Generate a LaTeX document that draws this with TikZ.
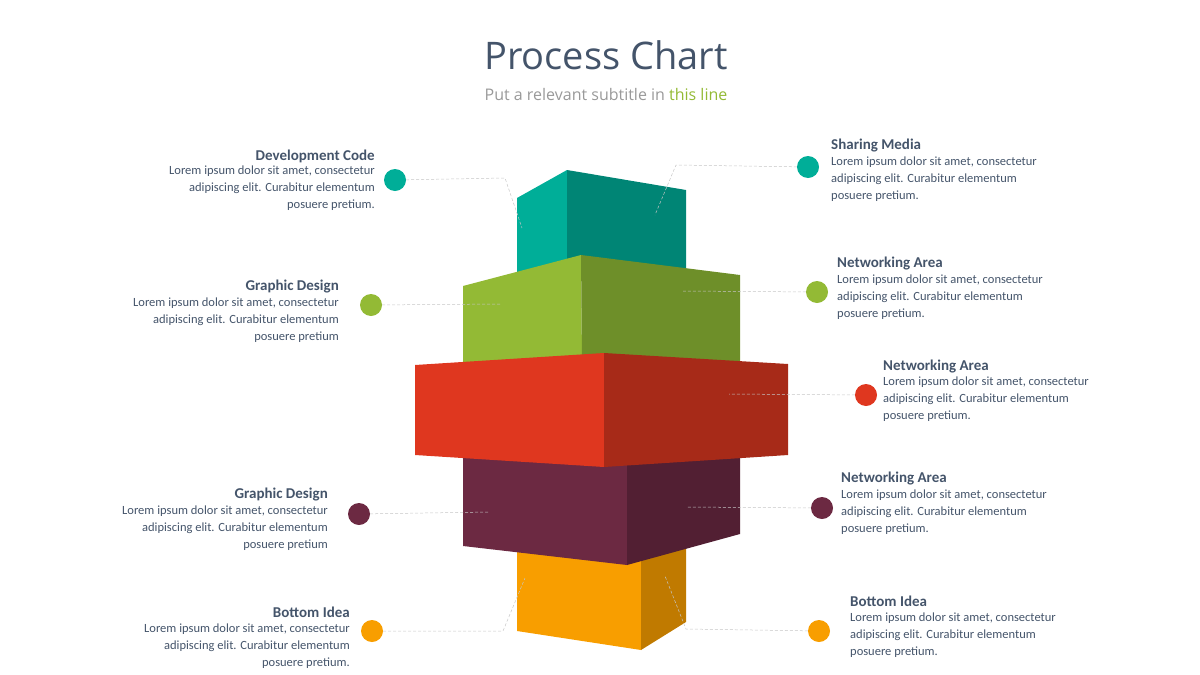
\documentclass[tikz,border=0pt]{standalone}
\usepackage{fontspec}
\setmainfont{Carlito}
\newfontfamily\headfont{Open Sans}
\usetikzlibrary{positioning}
\definecolor{txt}{HTML}{44546A}
\definecolor{tealL}{HTML}{00AE98}
\definecolor{tealD}{HTML}{008575}
\definecolor{greenL}{HTML}{93BA35}
\definecolor{greenD}{HTML}{6E8F29}
\definecolor{redL}{HTML}{DF371F}
\definecolor{redD}{HTML}{A72A18}
\definecolor{plumL}{HTML}{6C2942}
\definecolor{plumD}{HTML}{521F33}
\definecolor{orangeL}{HTML}{F89E00}
\definecolor{orangeD}{HTML}{C07A00}
\tikzset{
  dot/.style={circle, fill=#1, minimum size=22pt, inner sep=0pt},
  lead/.style={draw=gray!45, densely dashed, line width=0.5pt},
  head/.style={font=\fontsize{15}{17}\selectfont\bfseries, text=txt, inner sep=0pt},
  body/.style={font=\fontsize{12.5}{16.8}\selectfont, text=txt, inner sep=0pt},
}
\begin{document}
\begin{tikzpicture}[x=1pt,y=-1pt]
		\useasboundingbox (0,0) rectangle (1200,675);
		\node (title) at (606,55) {\headfont\fontsize{38}{40}\selectfont\color{txt}Process Chart};
		\node (sub) at (606,94) {\headfont\fontsize{16}{18}\selectfont\color{gray!80}Put a relevant subtitle in \color{greenL}this line};

		% blocks
		\fill[tealL] (517,198) -- (567,170) -- (567,272) -- (517,272) -- cycle;
		\fill[tealD] (567,170) -- (686,190) -- (686,272) -- (567,272) -- cycle;
		\fill[orangeL] (517,545) -- (641,545) -- (641,650) -- (517,631) -- cycle;
		\fill[orangeD] (641,545) -- (686,545) -- (686,622) -- (641,650) -- cycle;
		\fill[greenL] (463,286) -- (581,255) -- (582,362) -- (463,362) -- cycle;
		\fill[greenD] (581,255) -- (740,275) -- (740,362) -- (582,362) -- cycle;
		\fill[plumL] (463,455) -- (627,455) -- (627,565) -- (463,546) -- cycle;
		\fill[plumD] (627,455) -- (740,455) -- (740,534) -- (627,565) -- cycle;
		\fill[redL] (415,365) -- (604,353) -- (604,467) -- (415,455) -- cycle;
		\fill[redD] (604,353) -- (788,364) -- (788,455) -- (604,467) -- cycle;

		% dots
		\node (d1)[dot=tealL] at (395,180) {};
		\node (d2)[dot=greenL] at (371,305) {};
		\node (d3)[dot=plumL] at (359,514) {};
		\node (d4)[dot=orangeL] at (372,631) {};
		\node (d5)[dot=tealL] at (808,167) {};
		\node (d6)[dot=greenL] at (817,292) {};
		\node (d7)[dot=redL] at (866,395) {};
		\node (d8)[dot=plumL] at (822,508) {};
		\node (d9)[dot=orangeL] at (819,631) {};

		% leaders
		\coordinate (c1) at (505,178); \coordinate (e1) at (522,228);
		\coordinate (c5) at (676,165); \coordinate (e5) at (655,215);
		\coordinate (c4) at (503,631); \coordinate (e4) at (525,578);
		\coordinate (c9) at (686,629); \coordinate (e9) at (665,576);
		\coordinate (e2) at (501,304);
		\coordinate (e3) at (490,512);
		\coordinate (e6) at (683,291);
		\coordinate (e7) at (729,394);
		\coordinate (e8) at (686,507);
		\draw[lead] (d1) -- (c1) -- (e1);
		\draw[lead] (d5) -- (c5) -- (e5);
		\draw[lead] (d4) -- (c4) -- (e4);
		\draw[lead] (d9) -- (c9) -- (e9);
		\draw[lead] (d2) -- (e2);
		\draw[lead] (d3) -- (e3);
		\draw[lead] (d6) -- (e6);
		\draw[lead] (d7) -- (e7);
		\draw[lead] (d8) -- (e8);

		% left texts
		\node (h1)[head, anchor=east] at (375,156) {Development Code};
		\node (b1)[body, anchor=north east, align=right] at (375,166) {Lorem ipsum dolor sit amet, consectetur\\adipiscing elit. Curabitur elementum\\posuere pretium.};
		\node (h2)[head, anchor=east] at (339,287) {Graphic Design};
		\node (b2)[body, anchor=north east, align=right] at (339,298) {Lorem ipsum dolor sit amet, consectetur\\adipiscing elit. Curabitur elementum\\posuere pretium};
		\node (h3)[head, anchor=east] at (328,495) {Graphic Design};
		\node (b3)[body, anchor=north east, align=right] at (328,506) {Lorem ipsum dolor sit amet, consectetur\\adipiscing elit. Curabitur elementum\\posuere pretium};
		\node (h4)[head, anchor=east] at (350,612) {Bottom Idea};
		\node (b4)[body, anchor=north east, align=right] at (350,624) {Lorem ipsum dolor sit amet, consectetur\\adipiscing elit. Curabitur elementum\\posuere pretium.};

		% right texts
		\node (h5)[head, anchor=west] at (831,146) {Sharing Media};
		\node (b5)[body, anchor=north west, align=left] at (831,157) {Lorem ipsum dolor sit amet, consectetur\\adipiscing elit. Curabitur elementum\\posuere pretium.};
		\node (h6)[head, anchor=west] at (837,264) {Networking Area};
		\node (b6)[body, anchor=north west, align=left] at (837,275) {Lorem ipsum dolor sit amet, consectetur\\adipiscing elit. Curabitur elementum\\posuere pretium.};
		\node (h7)[head, anchor=west] at (883,367) {Networking Area};
		\node (b7)[body, anchor=north west, align=left] at (883,377) {Lorem ipsum dolor sit amet, consectetur\\adipiscing elit. Curabitur elementum\\posuere pretium.};
		\node (h8)[head, anchor=west] at (841,479) {Networking Area};
		\node (b8)[body, anchor=north west, align=left] at (841,490) {Lorem ipsum dolor sit amet, consectetur\\adipiscing elit. Curabitur elementum\\posuere pretium.};
		\node (h9)[head, anchor=west] at (850,601) {Bottom Idea};
		\node (b9)[body, anchor=north west, align=left] at (850,613) {Lorem ipsum dolor sit amet, consectetur\\adipiscing elit. Curabitur elementum\\posuere pretium.};
	\end{tikzpicture}
\end{document}
